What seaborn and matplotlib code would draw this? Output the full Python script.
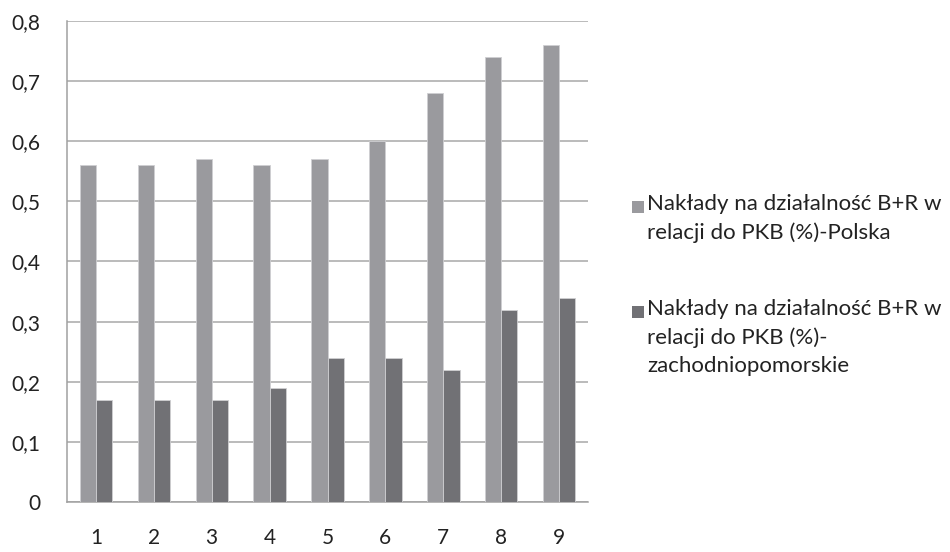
import pandas as pd
import numpy as np
import seaborn as sns
import matplotlib.pyplot as plt
from matplotlib.patches import Rectangle
from matplotlib.ticker import FuncFormatter

# --- Dane ---
lata = ['1', '2', '3', '4', '5', '6', '7', '8', '9']
polska = [0.56, 0.56, 0.57, 0.56, 0.57, 0.60, 0.68, 0.74, 0.76]
zachodniopomorskie = [0.17, 0.17, 0.17, 0.19, 0.24, 0.24, 0.22, 0.32, 0.34]
etykiety = ['Nakłady na działalność B+R w\nrelacji do PKB (%)-Polska',
            'Nakłady na działalność B+R w\nrelacji do PKB (%)-\nzachodniopomorskie']
kolory = ['#9A9A9E', '#717175']
y_ticks = [0, 0.1, 0.2, 0.3, 0.4, 0.5, 0.6, 0.7, 0.8]

df = pd.DataFrame({
    'rok': lata * 2,
    'wartosc': polska + zachodniopomorskie,
    'seria': [etykiety[0]] * len(lata) + [etykiety[1]] * len(lata),
})

sns.set_style("white")
plt.rcParams['font.family'] = ['Lato', 'DejaVu Sans']

fig = plt.figure(figsize=(9.5, 5.52), dpi=100)
ax = fig.add_axes([0.0705, 0.0906, 0.5485, 0.8714])

sns.barplot(data=df, x='rok', y='wartosc', hue='seria',
            palette=kolory, width=0.56, saturation=1, errorbar=None,
            edgecolor='#CFCFD2', linewidth=0.6, legend=False, ax=ax, zorder=3)

ax.set_ylim(0, 0.8)
ax.set_yticks(y_ticks)
ax.yaxis.set_major_formatter(FuncFormatter(lambda v, p: '0' if v == 0 else f'{v:.1f}'.replace('.', ',')))
ax.set_xlim(-0.5, len(lata) - 0.5)
ax.set_xticks(np.arange(-0.5, len(lata) + 0.5), minor=False)
ax.set_xticklabels([])
ax.set_xticks(np.arange(len(lata)), minor=True)
ax.set_xticklabels(lata, minor=True)
ax.tick_params(axis='x', which='major', length=7, color='#A0A0A0', direction='out')
ax.tick_params(axis='x', which='minor', length=0, labelsize=15, pad=19, colors='#222222')
ax.tick_params(axis='y', length=7, color='#A0A0A0', labelsize=15, pad=12, colors='#222222')
ax.grid(axis='y', color='#A8A8A8', linewidth=1.1, zorder=0)
ax.set_axisbelow(True)

for s in ['top', 'right']:
    ax.spines[s].set_visible(False)
for s in ['left', 'bottom']:
    ax.spines[s].set_color('#A0A0A0')
    ax.spines[s].set_linewidth(1.1)

ax.set_xlabel('')
ax.set_ylabel('')

# --- Legenda (kwadrat przy pierwszej linii, jak w Excelu) ---
W, H = 950, 552
legenda_y = [207, 312]
for lab, kol, yc in zip(etykiety, kolory, legenda_y):
    fig.patches.append(Rectangle((632 / W, 1 - (yc + 6) / H), 12 / W, 12 / H,
                                 transform=fig.transFigure, facecolor=kol,
                                 edgecolor='none'))
    fig.text(647 / W, 1 - (yc - 13) / H, lab, fontsize=16, color='#222222',
             va='top', ha='left', linespacing=1.5)

fig.savefig('out.png', dpi=100)
plt.close()
